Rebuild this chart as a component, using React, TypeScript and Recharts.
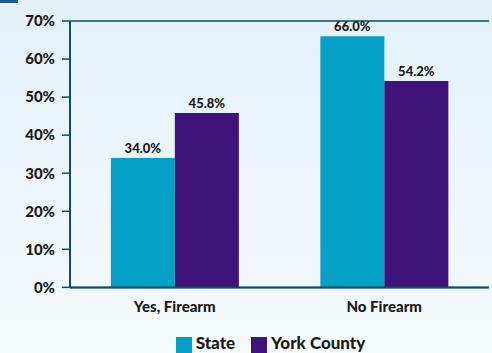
import React from 'react'
import { Bar, BarChart, CartesianGrid, LabelList, Legend, XAxis, YAxis } from 'recharts'

// firearm in household - state vs county
const categories = ['Yes, Firearm', 'No Firearm']
const stateValues = [34.0, 66.0]
const yorkValues = [45.8, 54.2]
const yTicks = [0, 10, 20, 30, 40, 50, 60, 70]

const data = categories.map((name, i) => ({
  name,
  state: stateValues[i],
  york: yorkValues[i],
}))

const FONT = 'Lato, "Open Sans", sans-serif'
const LINE = '#0f4b6b'
const TEAL = '#05a0c5'
const PURPLE = '#40137a'

const pct = (v: number) => `${Number(v).toFixed(1)}%`

const App = () => {
  return (
    <div
      style={{
        position: 'fixed',
        left: 0,
        top: 0,
        width: 492,
        height: 353,
        background: 'linear-gradient(#e3f1f7, #f5fafc)',
        fontFamily: FONT,
      }}
    >
      <div style={{ position: 'absolute', left: 0, top: 0, width: 18, height: 3, background: '#1b5a8c' }} />
      <BarChart
        width={492}
        height={353}
        data={data}
        margin={{ top: 21, right: 3, left: 0, bottom: 0 }}
        barCategoryGap="19.5%"
        barGap={0}
      >
        <CartesianGrid vertical={false} stroke={LINE} strokeWidth={1.5} />
        <XAxis
          dataKey="name"
          axisLine={{ stroke: LINE, strokeWidth: 2 }}
          tickLine={false}
          tickMargin={8}
          height={48}
          tick={{ fill: '#1a1a1a', fontSize: 15, fontWeight: 900, fontFamily: FONT }}
        />
        <YAxis
          yAxisId="left"
          domain={[0, 70]}
          ticks={yTicks}
          width={70}
          tickSize={8}
          tickMargin={7}
          tickFormatter={(v: number) => `${v}%`}
          axisLine={{ stroke: LINE, strokeWidth: 2 }}
          tickLine={{ stroke: LINE, strokeWidth: 1.5 }}
          tick={{ fill: '#1a1a1a', fontSize: 15, fontWeight: 900, fontFamily: FONT }}
        />
        <YAxis
          yAxisId="right"
          orientation="right"
          domain={[0, 70]}
          width={0}
          tick={false}
          tickLine={false}
          axisLine={{ stroke: LINE, strokeWidth: 2 }}
        />
        <Legend
          verticalAlign="bottom"
          iconType="square"
          iconSize={16}
          wrapperStyle={{ left: 69, width: 419, bottom: 0, lineHeight: '16px', fontFamily: FONT, fontSize: 17, fontWeight: 900 }}
          formatter={(value: string) => <span style={{ color: '#1a1a1a', marginRight: 6 }}>{value}</span>}
        />
        <Bar yAxisId="left" dataKey="state" name="State" fill={TEAL} isAnimationActive={false}>
          <LabelList dataKey="state" position="top" formatter={pct} fill="#1a1a1a" fontSize={13} fontWeight={900} fontFamily={FONT} />
        </Bar>
        <Bar yAxisId="left" dataKey="york" name="York County" fill={PURPLE} isAnimationActive={false}>
          <LabelList dataKey="york" position="top" formatter={pct} fill="#1a1a1a" fontSize={13} fontWeight={900} fontFamily={FONT} />
        </Bar>
      </BarChart>
    </div>
  )
}

export default App
